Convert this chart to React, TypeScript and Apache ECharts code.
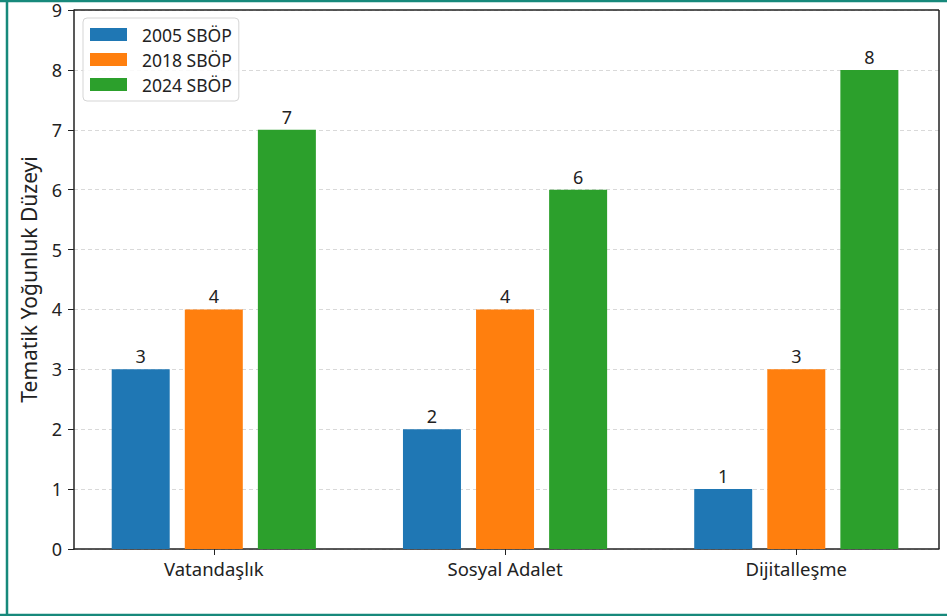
import React, { useEffect, useRef } from "react";
import * as echarts from "echarts";

const categories = ["Vatandaşlık", "Sosyal Adalet", "Dijitalleşme"];
const seriesNames = ["2005 SBÖP", "2018 SBÖP", "2024 SBÖP"];
const values2005 = [3, 2, 1];
const values2018 = [4, 4, 3];
const values2024 = [7, 6, 8];
const colors = ["#1f77b4", "#ff7f0e", "#2ca02c"];
const yAxisName = "Tematik Yoğunluk Düzeyi";

export default function App() {
  const ref = useRef<HTMLDivElement>(null);
  useEffect(() => {
    const chart = echarts.init(ref.current!, null, { renderer: "svg" });
    const font = "Noto Sans";
    const data = [values2005, values2018, values2024];
    const catIdx = categories.map((_, i) => i);
    chart.setOption({
      animation: false,
      backgroundColor: "#ffffff",
      textStyle: { fontFamily: font },
      grid: { left: 74, right: 8, top: 10, bottom: 67, containLabel: false },
      legend: {
        orient: "vertical",
        left: 83,
        top: 18,
        itemWidth: 37,
        itemHeight: 13,
        itemGap: 6,
        padding: [7, 7, 7, 7],
        borderColor: "#d5d5d5",
        borderWidth: 1,
        borderRadius: 4,
        backgroundColor: "rgba(255,255,255,0.85)",
        textStyle: { fontFamily: font, fontSize: 17.5, lineHeight: 19, color: "#222", padding: [0, 0, 0, 10] },
        icon: "rect",
        data: seriesNames,
      },
      xAxis: {
        type: "value",
        min: -0.48,
        max: 2.49,
        axisLine: { show: true, onZero: false, lineStyle: { color: "#222", width: 1.5 } },
        axisTick: { show: true, customValues: catIdx, length: 6, lineStyle: { color: "#222" } },
        axisLabel: {
          customValues: catIdx,
          formatter: (v: number) => categories[Math.round(v)] ?? "",
          fontFamily: font,
          fontSize: 18.5,
          color: "#222",
          margin: 10,
        },
        splitLine: { show: false },
      },
      yAxis: {
        type: "value",
        min: 0,
        max: 9,
        interval: 1,
        name: yAxisName,
        nameLocation: "middle",
        nameGap: 35,
        nameTextStyle: { fontFamily: font, fontSize: 21, color: "#222" },
        axisLine: { show: true, onZero: false, lineStyle: { color: "#222", width: 1.5 } },
        axisTick: { show: true, length: 6, lineStyle: { color: "#222" } },
        axisLabel: { fontFamily: font, fontSize: 18, lineHeight: 16, color: "#222", margin: 12 },
        splitLine: { show: true, lineStyle: { color: "#d9d9d9", type: [4, 3], width: 1 } },
      },
      series: seriesNames.map((name, i) => ({
        name,
        type: "bar",
        data: data[i].map((v, j) => [catIdx[j], v]),
        barWidth: 58,
        barGap: "26%",
        itemStyle: { color: colors[i] },
        label: {
          show: true,
          position: "top",
          distance: 4,
          fontFamily: font,
          fontSize: 18,
          color: "#222",
          formatter: (p: any) => String(p.value[1]),
        },
      })),
      graphic: [
        { type: "line", shape: { x1: 939, y1: 10, x2: 939, y2: 549 }, style: { stroke: "#222", lineWidth: 1.5 }, z: 100 },
        { type: "line", shape: { x1: 74, y1: 10, x2: 939, y2: 10 }, style: { stroke: "#222", lineWidth: 1.5 }, z: 100 },
        { type: "line", shape: { x1: 0, y1: 1, x2: 947, y2: 1 }, style: { stroke: "#17897b", lineWidth: 2.5 }, z: 100 },
        { type: "line", shape: { x1: 7, y1: 0, x2: 7, y2: 616 }, style: { stroke: "#17897b", lineWidth: 2.5 }, z: 100 },
        { type: "line", shape: { x1: 0, y1: 615, x2: 947, y2: 615 }, style: { stroke: "#17897b", lineWidth: 2.5 }, z: 100 },
      ],
    });
    return () => chart.dispose();
  }, []);
  return (
    <div
      ref={ref}
      style={{ position: "fixed", left: 0, top: 0, width: 947, height: 616 }}
    />
  );
}
